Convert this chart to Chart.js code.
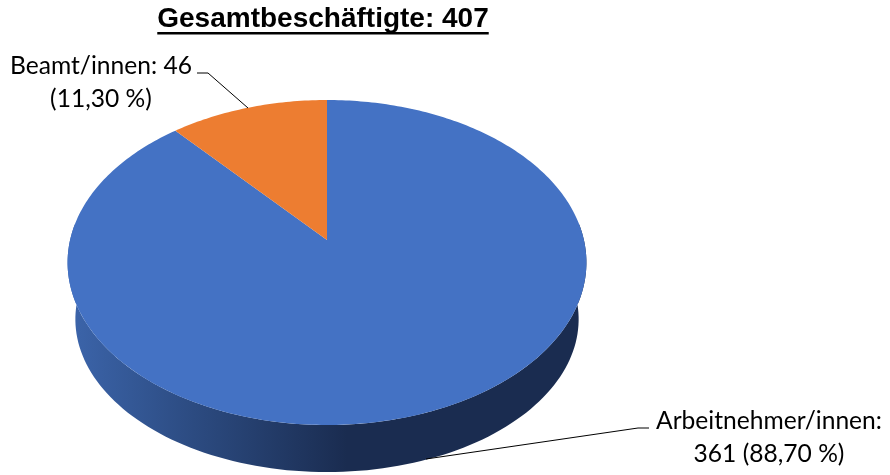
<!DOCTYPE html>
<html>
<head>
    <title>Gesamtbeschäftigte</title>
    <script src="https://cdn.jsdelivr.net/npm/chart.js"></script>
    <style>
        html, body { margin: 0; background: #fff; }
        #wrap { position: relative; width: 890px; height: 475px; }
    </style>
</head>
<body>
<div id="wrap"><canvas id="pie"></canvas></div>
<script>
    const chartTitle = 'Gesamtbeschäftigte: 407';
    const categories = ['Arbeitnehmer/innen', 'Beamt/innen'];
    const values = [361, 46];
    const shares = ['88,70 %', '11,30 %'];
    const sliceColors = ['#4472c4', '#ed7d31'];

    // Beschriftung: Zeilen, Ankerpunkte und Führungslinien
    const labelLines = [
        [categories[0] + ':', values[0] + ' (' + shares[0] + ')'],
        [categories[1] + ': ' + values[1], '(' + shares[1] + ')']
    ];
    const labelBoxes = [{x: 769, y: [429, 462]}, {x: 101, y: [74, 107]}];
    const leaders = [
        [[649, 428], [638, 428], [426, 459]],
        [[197, 73], [208, 73], [248, 108]]
    ];

    // Perspektive: Kreiswinkel -> Punkt auf der geneigten Oberseite
    const persp = {k: -0.1385, sx: 0.992, sy: 0.6154};
    function topPoint(arc, angle, scale) {
        const t = angle + Math.PI / 2;
        const u = Math.sin(t), v = -Math.cos(t);
        const w = 1 + persp.k * v;
        const R = arc.outerRadius * (scale || 1);
        return [arc.x + R * persp.sx * u / w, arc.y + R * persp.sy * v / w];
    }

    const pie3d = {
        id: 'pie3d',
        afterLayout(chart) {
            chart.titleBlock.left -= 4;
            chart.titleBlock.right -= 4;
        },
        beforeDatasetDraw(chart) {
            const ctx = chart.ctx;
            const arcs = chart.getDatasetMeta(0).data;
            const first = arcs[0];
            const depth = 58, shrink = 0.97;

            // Seitenwand
            const grad = ctx.createLinearGradient(first.x - 259, 0, first.x + 20, 0);
            grad.addColorStop(0, '#3c65ab');
            grad.addColorStop(0.45, '#2c4b81');
            grad.addColorStop(1, '#1a2c50');
            ctx.save();
            ctx.beginPath();
            const steps = 120;
            for (let i = 0; i <= steps; i++) {
                const a = -0.1 + (Math.PI + 0.2) * i / steps;
                const p = topPoint(first, a);
                ctx.lineTo(p[0], p[1]);
            }
            for (let i = steps; i >= 0; i--) {
                const a = -0.1 + (Math.PI + 0.2) * i / steps;
                const p = topPoint(first, a, shrink);
                ctx.lineTo(p[0], (p[1] - first.y) * 0.97 + first.y + depth);
            }
            ctx.closePath();
            ctx.fillStyle = grad;
            ctx.fill();

            // Oberseite
            arcs.forEach((arc, i) => {
                ctx.beginPath();
                ctx.moveTo(arc.x, arc.y);
                const n = Math.ceil((arc.endAngle - arc.startAngle) * 60);
                for (let j = 0; j <= n; j++) {
                    const p = topPoint(arc, arc.startAngle + (arc.endAngle - arc.startAngle) * j / n);
                    ctx.lineTo(p[0], p[1]);
                }
                ctx.closePath();
                ctx.fillStyle = sliceColors[i];
                ctx.fill();
            });
            ctx.restore();
            return false;
        },
        afterDraw(chart) {
            const ctx = chart.ctx;
            const t = chart.titleBlock;
            ctx.save();
            // Unterstreichung des Titels
            ctx.font = t.options.font.weight + ' ' + t.options.font.size + 'px ' + t.options.font.family;
            const tw = ctx.measureText(chartTitle).width;
            const mid = (t.left + t.right) / 2;
            ctx.fillStyle = '#000';
            ctx.fillRect(mid - tw / 2, 32, tw, 2.5);

            // Führungslinien
            ctx.strokeStyle = '#000';
            ctx.lineWidth = 1;
            leaders.forEach(l => {
                ctx.beginPath();
                l.forEach(p => ctx.lineTo(p[0], p[1]));
                ctx.stroke();
            });

            // Beschriftungen
            ctx.font = '24.6px Lato, sans-serif';
            ctx.fillStyle = '#000';
            ctx.textAlign = 'center';
            labelLines.forEach((lines, i) => {
                lines.forEach((s, j) => ctx.fillText(s, labelBoxes[i].x, labelBoxes[i].y[j]));
            });
            ctx.restore();
        }
    };

    new Chart(document.getElementById('pie'), {
        type: 'pie',
        data: {
            labels: categories,
            datasets: [{
                data: values,
                backgroundColor: sliceColors,
                borderWidth: 0,
                radius: 259
            }]
        },
        options: {
            responsive: true,
            maintainAspectRatio: false,
            animation: false,
            layout: {padding: {top: 0, bottom: 32.6, left: 0, right: 236}},
            plugins: {
                legend: {display: false},
                tooltip: {enabled: false},
                title: {
                    display: true,
                    text: chartTitle,
                    color: '#000',
                    font: {family: '"Liberation Sans", Arial, sans-serif', size: 28, weight: 'bold'},
                    padding: {top: 2, bottom: 2}
                }
            }
        },
        plugins: [pie3d]
    });
</script>
</body>
</html>
